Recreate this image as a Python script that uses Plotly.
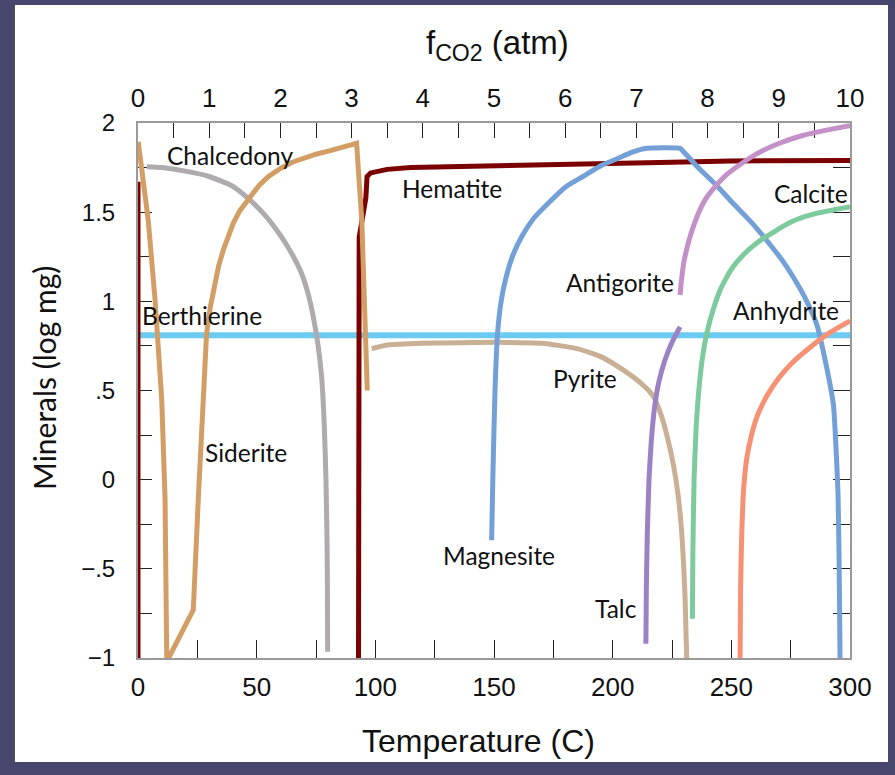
import plotly.graph_objects as go

# ---- data ----
berthierine_T = [0, 300]
berthierine_y = [0.81, 0.81]

hematite_T = [0, 0, None, 92.9, 92.9, 93.2, 96.0, 96.5, 98, 105, 115, 130, 150, 175, 200, 225, 250, 275, 300]
hematite_y = [1.67, -1.1, None, -1.1, 1.0, 1.36, 1.58, 1.70, 1.72, 1.74, 1.75, 1.755, 1.76, 1.765, 1.772, 1.78, 1.787, 1.79, 1.79]

chalcedony_T = [3.7, 10, 20, 30, 40, 47, 53, 58.4, 62, 65.5, 68.5, 71.1, 73, 74.6, 76, 77.4, 78.5, 79.2, 79.6, 79.8, 79.9]
chalcedony_y = [1.755, 1.75, 1.73, 1.70, 1.645, 1.57, 1.49, 1.40, 1.33, 1.25, 1.17, 1.07, 0.97, 0.858, 0.74, 0.57, 0.3, 0.0, -0.3, -0.56, -0.965]

siderite_T = [0.1, 4.3, 7.2, 10, 11.4, 12.1, 13.3, 23.3, 25.4, 26.8, 28.9, 30.5, 32.4, 34, 36, 38, 40.2, 43, 47,
              51, 55, 60, 65, 70, 75, 81, 87, 92.1, 94.3, 95.7, 96.6]
siderite_y = [1.895, 1.456, 1.007, 0.45, -0.11, -0.99, -0.99, -0.73, -0.11, 0.26, 0.82, 0.97, 1.10, 1.20, 1.29, 1.37, 1.44, 1.51, 1.585,
              1.65, 1.70, 1.745, 1.78, 1.805, 1.825, 1.845, 1.865, 1.886, 1.456, 0.895, 0.50]

pyrite_T = [98.5, 105, 120, 150, 170, 185, 195, 205, 212, 217, 220.5, 223, 225.5, 227.5, 229, 230.5, 231.2]
pyrite_y = [0.735, 0.755, 0.765, 0.77, 0.765, 0.735, 0.69, 0.61, 0.54, 0.47, 0.36, 0.24, 0.09, -0.08, -0.28, -0.66, -1.0]

magnesite_T = [149, 149.5, 150.4, 151.5, 153, 155, 158, 162, 167, 173.6, 180, 187.5, 195, 202, 208, 214.4, 228.4, 229.8,
               236, 243.8, 250, 258, 265, 272, 279, 282.5, 286, 290, 293, 295, 295.6, 295.8]
magnesite_y = [-0.34, 0.0, 0.49, 0.82, 1.0, 1.13, 1.26, 1.37, 1.47, 1.56, 1.64, 1.70, 1.76, 1.80, 1.835, 1.858, 1.858, 1.84,
               1.75, 1.65, 1.56, 1.45, 1.34, 1.22, 1.07, 0.98, 0.87, 0.64, 0.42, -0.1, -0.7, -1.0]

antigorite_T = [228.4, 229, 230, 231.5, 233.5, 236, 239, 243, 248, 254, 261, 270, 280, 290, 300]
antigorite_y = [1.035, 1.12, 1.22, 1.31, 1.40, 1.49, 1.57, 1.64, 1.71, 1.77, 1.83, 1.885, 1.93, 1.96, 1.985]

talc_T = [214, 214.2, 214.6, 215.3, 216.3, 217.6, 219.5, 222, 225, 228.4]
talc_y = [-0.92, -0.6, -0.3, 0.0, 0.22, 0.40, 0.55, 0.67, 0.77, 0.857]

calcite_T = [233.6, 233.8, 234.3, 235.2, 236.5, 238, 240, 242.5, 245.5, 250, 255, 261, 268, 276, 285, 300]
calcite_y = [-0.78, -0.4, 0.0, 0.3, 0.53, 0.70, 0.84, 0.96, 1.07, 1.18, 1.26, 1.33, 1.39, 1.45, 1.49, 1.53]

anhydrite_T = [253.7, 253.9, 254.4, 255.2, 256.5, 258.5, 261, 265, 270, 276, 283, 291, 300]
anhydrite_y = [-1.0, -0.6, -0.3, -0.05, 0.12, 0.25, 0.36, 0.47, 0.57, 0.66, 0.74, 0.82, 0.89]

labels = ["Chalcedony", "Hematite", "Calcite", "Antigorite", "Anhydrite", "Berthierine",
          "Pyrite", "Siderite", "Magnesite", "Talc"]
label_T = [38.8, 132.3, 283.6, 203.1, 273.0, 26.96, 188.4, 45.5, 152.1, 201.4]
label_y = [1.815, 1.635, 1.607, 1.103, 0.951, 0.923, 0.570, 0.155, -0.428, -0.720]

temp_ticks = [0, 50, 100, 150, 200, 250, 300]
fco2_ticks = list(range(0, 11))
y_ticks = [-1, -0.5, 0, 0.5, 1, 1.5, 2]
y_ticktext = ["\u22121", "\u2212.5", "0", ".5", "1", "1.5", "2"]

# ---- figure ----
series = [
    ("Berthierine", berthierine_T, berthierine_y, "#6ccbf0", 6, "linear"),
    ("Hematite", hematite_T, hematite_y, "#7b0000", 5, "linear"),
    ("Chalcedony", chalcedony_T, chalcedony_y, "#aeaaae", 5, "spline"),
    ("Siderite", siderite_T, siderite_y, "#d29e66", 5, "linear"),
    ("Pyrite", pyrite_T, pyrite_y, "#c9b094", 5, "spline"),
    ("Magnesite", magnesite_T, magnesite_y, "#74a0d8", 5, "spline"),
    ("Antigorite", antigorite_T, antigorite_y, "#c490c8", 5, "spline"),
    ("Talc", talc_T, talc_y, "#9c82c4", 5, "spline"),
    ("Calcite", calcite_T, calcite_y, "#7dcb9c", 5, "spline"),
    ("Anhydrite", anhydrite_T, anhydrite_y, "#f79174", 5, "spline"),
]

fig = go.Figure()
for name, xs, ys, col, w, shape in series:
    line = dict(color=col, width=w, shape=shape)
    if shape == "spline":
        line["smoothing"] = 0.5
    fig.add_trace(go.Scatter(x=xs, y=ys, mode="lines", name=name, line=line,
                             connectgaps=False, hoverinfo="skip"))

# dummy traces for top and right axes
fig.add_trace(go.Scatter(x=[0, 10], y=[None, None], xaxis="x2", yaxis="y", showlegend=False,
                         mode="lines", hoverinfo="skip"))
fig.add_trace(go.Scatter(x=[0], y=[None], xaxis="x", yaxis="y2", showlegend=False,
                         mode="lines", hoverinfo="skip"))

xtickfont = dict(family="Liberation Sans, Arial, sans-serif", size=26, color="#111")
ytickfont = dict(family="Liberation Sans, Arial, sans-serif", size=24, color="#111")
axis_common = dict(showgrid=False, zeroline=False, showline=True, linecolor="#9a9a9a", linewidth=2,
                   ticks="inside", tickcolor="#222", tickwidth=1.3, layer="below traces")

fig.update_layout(
    width=895, height=775,
    margin=dict(l=138, r=45, t=123, b=117),
    paper_bgcolor="#47476e",
    plot_bgcolor="white",
    showlegend=False,
    xaxis=dict(range=[0, 300], tickvals=temp_ticks, ticklen=18, tickfont=xtickfont,
               minor=dict(dtick=25, tick0=0, ticks="inside", ticklen=18, tickcolor="#222", tickwidth=1.3),
               ticklabelstandoff=5, **axis_common),
    xaxis2=dict(range=[0, 10], overlaying="x", side="top", tickvals=fco2_ticks, ticklen=15,
                tickfont=xtickfont,
                minor=dict(dtick=0.5, tick0=0, ticks="inside", ticklen=15, tickcolor="#222", tickwidth=1.3),
                ticklabelstandoff=4, **axis_common),
    yaxis=dict(range=[-1, 2], tickvals=y_ticks, ticktext=y_ticktext, ticklen=14, tickfont=ytickfont,
               minor=dict(dtick=0.25, tick0=0, ticks="inside", ticklen=14, tickcolor="#222", tickwidth=1.3),
               ticklabelstandoff=16, **axis_common),
    yaxis2=dict(range=[-1, 2], overlaying="y", side="right", showticklabels=False,
                tickvals=[v / 4 for v in range(-4, 9)], ticklen=17, **axis_common),
)

fig.add_shape(type="rect", xref="paper", yref="paper", x0=-0.1728, x1=1.0534, y0=-0.1944, y1=1.2206,
              fillcolor="white", line=dict(width=0), layer="below")

labfont = dict(family="Lato, Open Sans, sans-serif", size=24.5, color="#111")
for t, x, y in zip(labels, label_T, label_y):
    fig.add_annotation(x=x, y=y, xref="x", yref="y", text=t, showarrow=False, font=labfont,
                       xanchor="center", yanchor="middle")

titlefont = dict(family="Liberation Sans, Arial, sans-serif", size=32, color="#111")
fig.add_annotation(x=(478 - 138) / 712, y=(658 - 741) / 535, xref="paper", yref="paper",
                   text="Temperature (C)", showarrow=False, font=titlefont,
                   xanchor="center", yanchor="middle")
fig.add_annotation(x=(497 - 138) / 712, y=(658 - 45) / 535, xref="paper", yref="paper",
                   text="f<sub>CO2</sub> (atm)", showarrow=False,
                   font=dict(family="Liberation Sans, Arial, sans-serif", size=33, color="#111"),
                   xanchor="center", yanchor="middle")
fig.add_annotation(x=(44 - 138) / 712, y=(658 - 378) / 535, xref="paper", yref="paper",
                   text="Minerals (log mg)", showarrow=False, textangle=-90,
                   font=dict(family="Lato, Open Sans, sans-serif", size=30, color="#111"),
                   xanchor="center", yanchor="middle")

fig.write_html("out.html", config={"displayModeBar": False},
               post_script="document.body.style.margin='0';document.body.style.background='#47476e';")
